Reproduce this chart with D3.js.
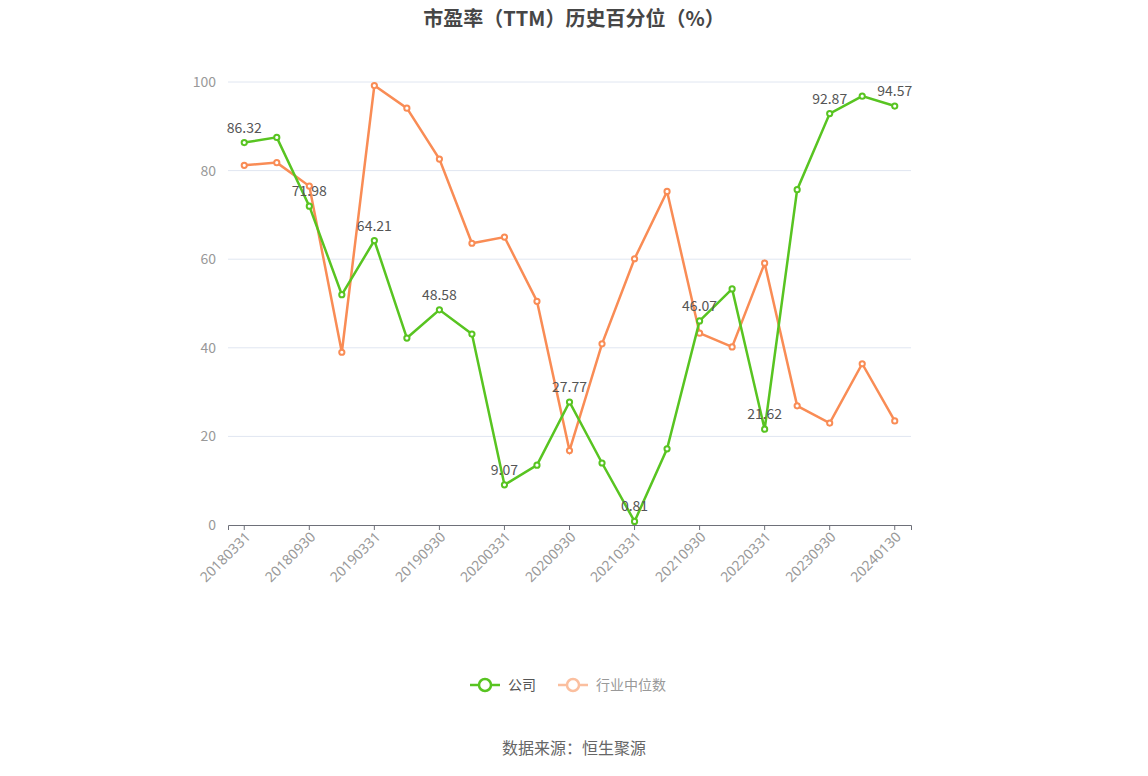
<!DOCTYPE html>
<html><head><meta charset="utf-8">
<script src="https://cdn.jsdelivr.net/npm/d3@7"></script>
<style>body{margin:0;background:#fff;font-family:"Noto Sans CJK SC","Noto Sans",sans-serif;}</style>
</head><body><div id="chart"></div>
<script>
// 数据
const dates = ["20180331","20180630","20180930","20181231","20190331","20190630","20190930","20191231","20200331","20200630","20200930","20201231","20210331","20210630","20210930","20211231","20220331","20230630","20230930","20231231","20240130"];
const company = [86.32,87.5,71.98,52.0,64.21,42.2,48.58,43.1,9.07,13.5,27.77,14.0,0.81,17.2,46.07,53.3,21.62,75.7,92.87,96.8,94.57];
const industry = [81.2,81.8,76.5,39.0,99.2,94.1,82.6,63.6,65.0,50.5,16.8,40.9,60.1,75.3,43.3,40.2,59.1,26.9,23.0,36.4,23.5];
const yTicks = [0,20,40,60,80,100];

const W = 1148, H = 776;
const svg = d3.select("#chart").append("svg").attr("width", W).attr("height", H);
const x = d3.scaleBand().domain(dates).range([228, 911]);
const cx = d => x(d) + x.bandwidth() / 2;
const y = d3.scaleLinear().domain([0, 100]).range([525, 82]);

svg.append("text").attr("x", W / 2).attr("y", 26).attr("text-anchor", "middle")
  .style("font-size", "20px").style("font-weight", "bold").attr("fill", "#464646")
  .text("市盈率（TTM）历史百分位（%）");

// 网格
svg.append("g").selectAll("line").data(yTicks.filter(t => t > 0)).join("line")
  .attr("x1", 228).attr("x2", 911).attr("y1", d => y(d)).attr("y2", d => y(d))
  .attr("stroke", "#e0e6f1");
svg.append("g").selectAll("text").data(yTicks).join("text")
  .attr("x", 216).attr("y", d => y(d) + 5).attr("text-anchor", "end")
  .style("font-size", "14px").attr("fill", "#999").text(d => d);

// x 轴
const xAxis = svg.append("g").attr("transform", "translate(0,525)")
  .call(d3.axisBottom(x).tickValues(dates.filter((d, i) => i % 2 === 0)).tickSize(5));
xAxis.select(".domain").attr("stroke", "#6e7079");
xAxis.selectAll(".tick line").attr("stroke", "#6e7079").attr("transform", `translate(${-x.bandwidth()/2},0)`);
xAxis.selectAll(".tick line").attr("transform", null);
xAxis.selectAll("text").attr("fill", "#999").style("font-size", "14px")
  .attr("text-anchor", "end").attr("dx", "-4").attr("dy", "6")
  .attr("transform", "rotate(-45)").style("font-family", "'Noto Sans',sans-serif");

function drawSeries(vals, color) {
  const line = d3.line().x((d, i) => cx(dates[i])).y(d => y(d));
  svg.append("path").datum(vals).attr("d", line).attr("fill", "none")
    .attr("stroke", color).attr("stroke-width", 2.5);
  svg.append("g").selectAll("circle").data(vals).join("circle")
    .attr("cx", (d, i) => cx(dates[i])).attr("cy", d => y(d)).attr("r", 2.6)
    .attr("fill", "#fff").attr("stroke", color).attr("stroke-width", 2);
}
drawSeries(industry, "#f98c55");
drawSeries(company, "#58c421");

svg.append("g").selectAll("text").data(company.map((v, i) => [v, i]).filter(d => d[1] % 2 === 0)).join("text")
  .attr("x", d => cx(dates[d[1]])).attr("y", d => y(d[0]) - 10).attr("text-anchor", "middle")
  .style("font-size", "14px").attr("fill", "#555").text(d => d[0].toFixed(2));

// 图例
const legend = [["公司", "#58c421", "#555", 470], ["行业中位数", "#fbbf9f", "#999", 558]];
legend.forEach(([name, c, tc, lx]) => {
  svg.append("line").attr("x1", lx).attr("x2", lx + 30).attr("y1", 685).attr("y2", 685)
    .attr("stroke", c).attr("stroke-width", 2.5);
  svg.append("circle").attr("cx", lx + 15).attr("cy", 685).attr("r", 6)
    .attr("fill", "#fff").attr("stroke", c).attr("stroke-width", 2.5);
  svg.append("text").attr("x", lx + 38).attr("y", 690).style("font-size", "14px")
    .attr("fill", tc).text(name);
});

svg.append("text").attr("x", W / 2).attr("y", 754).attr("text-anchor", "middle")
  .style("font-size", "16px").attr("fill", "#666").text("数据来源：恒生聚源");
</script></body></html>
